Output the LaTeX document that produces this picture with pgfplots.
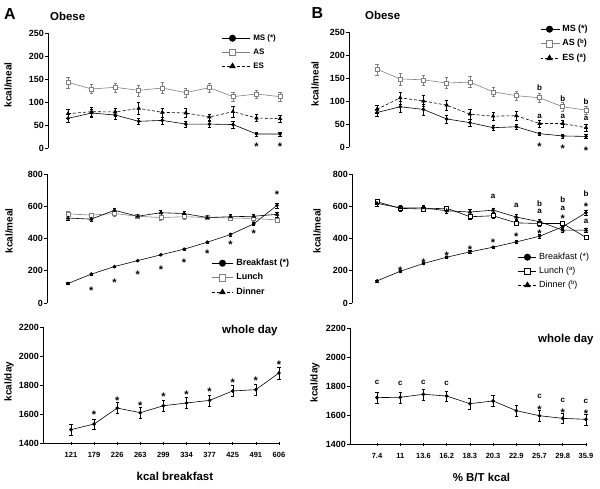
\documentclass[border=0pt]{standalone}
\usepackage{fontspec}
\setmainfont{Liberation Sans}
\usepackage{pgfplots}
\pgfplotsset{compat=1.18}
\definecolor{lgray}{gray}{0.5}
\newcommand\tk{\fontsize{9}{10}\selectfont\bfseries}
\newcommand\lab{\fontsize{10}{12}\selectfont\bfseries}
\newcommand\xt{\fontsize{7.5}{9}\selectfont\bfseries}
\newcommand\xl{\fontsize{11.5}{13}\selectfont\bfseries}
\newcommand\ttl{\fontsize{11.5}{13}\selectfont\bfseries}
\newcommand\st{\fontsize{11}{12}\selectfont\bfseries}
\newcommand\lt{\fontsize{8}{9}\selectfont\bfseries}

\pgfplotsset{
  panel/.style={
    scale only axis, clip=false,
    axis y line=left,
    tick align=outside, major tick length=3bp,
    ytick style={line width=0.7pt, black},
    yticklabel style={font=\tk, inner sep=1bp},
    /pgf/number format/assume math mode=true,
    /pgf/number format/1000 sep={},
    scaled y ticks=false,
    every axis y label/.style={rotate=90, anchor=center, font=\lab},
    legend cell align=left,
    legend style={draw=none, fill=none, inner sep=0pt, anchor=north west, row sep=6bp,
      nodes={inner sep=0pt, text height=6bp, text depth=2bp},
      /tikz/every odd column/.append style={column sep=2.5bp}},
    every legend image post/.style={mark size=3.2bp},
    error bars/y dir=both, error bars/y explicit,
    error bars/error bar style={line width=0.4pt, solid},
    error bars/error mark options={rotate=90, mark size=1.6bp, line width=0.4pt},
  },
  toppanel/.style={panel, axis x line=none, xtick=\empty,
    axis line style={-, line width=0.7pt}},
  botpanel/.style={panel, axis x line=bottom, xtick={0,...,9},
    axis line style={-, line width=0.7pt},
    x axis line style={-}, y axis line style={-},
    xtick style={line width=0.6pt, black},
    xticklabel style={font=\xt, yshift=-4bp},
    every axis x label/.style={at={(axis cs:4.5,1400)}, anchor=center, yshift=-33bp, font=\xl}},
  ms/.style={black, line width=0.6pt, mark=*, mark size=1.5bp},
  as/.style={lgray, line width=0.6pt, mark=square*, mark options={fill=white}, mark size=2bp},
  es/.style={black, line width=0.6pt, densely dashed, mark=triangle*, mark options={solid}, mark size=2bp},
  ann/.style={forget plot, only marks, mark=none, error bars/y dir=none,
    point meta=explicit symbolic, nodes near coords,
    every node near coord/.append style={anchor=center, inner sep=0pt, font=#1}},
  star/.style={ann=\st, every node near coord/.append style={yshift=-2.5bp}},
  legimg/.style 2 args={legend image code/.code={\draw[mark repeat=2, mark phase=2, ##1] plot coordinates {(0bp,0bp) (#1bp,0bp) (#2bp,0bp)};}},
}
\newcommand\supx[1]{\raisebox{2.5bp}{\fontsize{6}{6}\selectfont #1}}

\begin{document}
\begin{tikzpicture}
\useasboundingbox (0,0) rectangle (600bp,-489bp);

% ---------- A top
\begin{axis}[toppanel, at={(48bp,-148bp)}, anchor=south west,
  width=241.5bp, height=115bp, xmin=-0.849, xmax=9.4, ymin=0, ymax=250,
  ytick={0,50,...,250}, ylabel={kcal/meal},
  ylabel style={at={(axis description cs:-0.1656,0.55)}},
  legimg={10}{28},
  legend style={at={(axis description cs:0.7205,0.991)}, font=\fontsize{8}{9}\selectfont\bfseries}]
\addplot[ms] coordinates {(0,64.5)+-(0,8) (1,76)+-(0,9) (2,71.7)+-(0,8) (3,58)+-(0,7) (4,60)+-(0,8)
  (5,52)+-(0,7) (6,52)+-(0,7) (7,51)+-(0,7) (8,30.5)+-(0,4) (9,30.5)+-(0,4)};
\addplot[as] coordinates {(0,142.8)+-(0,12) (1,128.3)+-(0,10) (2,131.9)+-(0,10) (3,125.4)+-(0,12) (4,130.4)+-(0,12)
  (5,120.3)+-(0,10) (6,131.2)+-(0,10) (7,111.6)+-(0,10) (8,117.4)+-(0,9) (9,111.6)+-(0,10)};
\addplot[es] coordinates {(0,74.6)+-(0,9) (1,79)+-(0,9) (2,78.3)+-(0,9) (3,86.2)+-(0,13) (4,77.5)+-(0,10)
  (5,76.1)+-(0,10) (6,67.4)+-(0,7) (7,79)+-(0,11) (8,65.2)+-(0,8) (9,63.8)+-(0,8)};
\addplot[star] coordinates {(8,9)[*] (9,9)[*]};
\legend{MS (*), AS, ES}
\end{axis}

% ---------- A middle
\begin{axis}[toppanel, at={(47bp,-303bp)}, anchor=south west,
  width=239.3bp, height=129bp, xmin=-0.904, xmax=9.4, ymin=0, ymax=800,
  ytick={0,200,...,800}, ylabel={kcal/meal},
  ylabel style={at={(axis description cs:-0.1588,0.56)}},
  legimg={10}{21},
  legend style={at={(axis description cs:0.6895,0.341)}, font=\fontsize{9}{10}\selectfont\bfseries,
    row sep=6.5bp}]
\addplot[ms] coordinates {(0,121)+-(0,5) (1,179)+-(0,5) (2,226)+-(0,5) (3,263)+-(0,5) (4,299)+-(0,5)
  (5,334)+-(0,6) (6,377)+-(0,6) (7,425)+-(0,8) (8,491)+-(0,10) (9,606)+-(0,15)};
\addplot[as] coordinates {(0,553)+-(0,15) (1,545)+-(0,15) (2,555)+-(0,15) (3,538)+-(0,15) (4,530)+-(0,15)
  (5,535)+-(0,15) (6,530)+-(0,12) (7,527)+-(0,15) (8,525)+-(0,15) (9,515)+-(0,15)};
\addplot[es, solid, legend image post style={densely dashed}] coordinates {(0,527)+-(0,15) (1,520)+-(0,15) (2,575)+-(0,15) (3,538)+-(0,15) (4,560)+-(0,15)
  (5,555)+-(0,15) (6,530)+-(0,12) (7,535)+-(0,15) (8,538)+-(0,15) (9,550)+-(0,15)};
\addplot[star] coordinates {(1,89)[*] (2,141)[*] (3,193)[*] (4,220)[*]
  (5,266)[*] (6,321)[*] (7,377)[*] (8,443)[*] (9,687)[*]};
\legend{Breakfast (*), Lunch, Dinner}
\end{axis}

% ---------- A bottom
\begin{axis}[botpanel, at={(43bp,-443bp)}, anchor=south west,
  width=237.1bp, height=116bp, xmin=-1.21, xmax=9.05, ymin=1400, ymax=2200,
  ytick={1400,1600,...,2200}, ylabel={kcal/day},
  ylabel style={at={(axis description cs:-0.1434,0.53)}},
  xticklabels={121,179,226,263,299,334,377,425,491,606},
  xlabel={kcal breakfast}]
\addplot[ms] coordinates {(0,1492)+-(0,37) (1,1531)+-(0,35) (2,1641)+-(0,38) (3,1609)+-(0,40) (4,1657)+-(0,38)
  (5,1676)+-(0,38) (6,1694)+-(0,38) (7,1759)+-(0,38) (8,1768)+-(0,38) (9,1883)+-(0,40)};
\addplot[star] coordinates {(1,1614)[*] (2,1710)[*] (3,1676)[*] (4,1736)[*]
  (5,1749)[*] (6,1772)[*] (7,1832)[*] (8,1848)[*] (9,1959)[*]};
\end{axis}

% ---------- B top
\begin{axis}[toppanel, at={(349bp,-147bp)}, anchor=south west,
  width=246.3bp, height=115bp, xmin=-1.206, xmax=9.4, ymin=0, ymax=250,
  ytick={0,50,...,250}, ylabel={kcal/meal},
  ylabel style={at={(axis description cs:-0.138,0.55)}},
  legimg={9}{19},
  legend style={at={(axis description cs:0.7755,1.061)}, font=\fontsize{9}{10}\selectfont\bfseries,
    row sep=6.5bp}]
\addplot[ms] coordinates {(0,75)+-(0,8) (1,87.5)+-(0,11) (2,81.6)+-(0,12) (3,61)+-(0,9) (4,53)+-(0,8)
  (5,42)+-(0,6) (6,44)+-(0,5) (7,29)+-(0,4) (8,24)+-(0,4) (9,23)+-(0,4)};
\addplot[as] coordinates {(0,169)+-(0,12) (1,148)+-(0,13) (2,146)+-(0,11) (3,139)+-(0,12) (4,141)+-(0,12)
  (5,120)+-(0,10) (6,111.5)+-(0,9) (7,107)+-(0,10) (8,87.5)+-(0,9) (9,80)+-(0,9)};
\addplot[es] coordinates {(0,82)+-(0,9) (1,107)+-(0,13) (2,100)+-(0,12) (3,91)+-(0,11) (4,71.4)+-(0,10)
  (5,67)+-(0,9) (6,68)+-(0,10) (7,51)+-(0,8) (8,51)+-(0,8) (9,42)+-(0,7)};
\addplot[ann=\lt] coordinates {(7,129)[b] (8,105.7)[b] (9,98.4)[b] (7,67)[a] (8,67)[a] (9,62)[a]};
\addplot[star] coordinates {(7,5)[*] (8,2.2)[*] (9,-3.6)[*]};
\legend{MS (*), AS (\supx{b}), ES (\supx{a})}
\end{axis}

% ---------- B middle
\begin{axis}[toppanel, at={(352bp,-303bp)}, anchor=south west,
  width=243.3bp, height=129bp, xmin=-1.077, xmax=9.4, ymin=0, ymax=800,
  ytick={0,200,...,800}, ylabel={kcal/meal},
  ylabel style={at={(axis description cs:-0.1439,0.56)}},
  legimg={9}{18},
  legend style={at={(axis description cs:0.682,0.3876)}, font=\fontsize{9}{10}\selectfont}]
\addplot[ms] coordinates {(0,137)+-(0,5) (1,197)+-(0,6) (2,245)+-(0,6) (3,284)+-(0,8) (4,317)+-(0,8)
  (5,346)+-(0,8) (6,379)+-(0,10) (7,414)+-(0,10) (8,473)+-(0,12) (9,560)+-(0,15)};
\addplot[as, black] coordinates {(0,628)+-(0,15) (1,587)+-(0,15) (2,583)+-(0,15) (3,588)+-(0,15) (4,535)+-(0,15)
  (5,541)+-(0,15) (6,497)+-(0,15) (7,493)+-(0,15) (8,493)+-(0,15) (9,406)+-(0,12)};
\addplot[es, solid, legend image post style={densely dashed}] coordinates {(0,618)+-(0,15) (1,590)+-(0,15) (2,590)+-(0,15) (3,572)+-(0,15) (4,564)+-(0,15)
  (5,576)+-(0,15) (6,533)+-(0,15) (7,504)+-(0,15) (8,452)+-(0,12) (9,452)+-(0,12)};
\addplot[star] coordinates {(1,213)[*] (2,265)[*] (3,311)[*] (4,348)[*]
  (5,391)[*] (6,426)[*] (7,448)[*] (8,540)[*] (9,614)[*]};
\addplot[ann=\lt] coordinates {(5,659)[a] (6,603)[a] (7,618)[b] (7,566)[a] (8,639)[b] (8,587)[a] (9,676)[b] (9,504)[a]};
\legend{Breakfast (*), Lunch (\supx{a}), Dinner (\supx{b})}
\end{axis}

% ---------- B bottom
\begin{axis}[botpanel, at={(350bp,-444bp)}, anchor=south west,
  width=237.1bp, height=116bp, xmin=-1.163, xmax=9.05, ymin=1400, ymax=2200,
  ytick={1400,1600,...,2200}, ylabel={kcal/day},
  ylabel style={at={(axis description cs:-0.1476,0.53)}},
  xticklabels={7.4,11,13.6,16.2,18.3,20.3,22.9,25.7,29.8,35.9},
  xlabel={\% B/T kcal}]
\addplot[ms] coordinates {(0,1720)+-(0,38) (1,1722)+-(0,38) (2,1743)+-(0,38) (3,1731)+-(0,36) (4,1678)+-(0,36)
  (5,1697)+-(0,38) (6,1630)+-(0,40) (7,1595)+-(0,36) (8,1577)+-(0,36) (9,1570)+-(0,38)};
\addplot[ann=\lt] coordinates {(0,1828)[c] (1,1818)[c] (2,1828)[c] (3,1818)[c] (7,1726)[c] (8,1703)[c] (9,1692)[c]};
\addplot[star] coordinates {(7,1653)[*] (8,1634)[*] (9,1625)[*]};
\end{axis}

% panel letters and titles
\node[font=\fontsize{16}{18}\selectfont\bfseries, anchor=center] at (10bp,-14bp) {A};
\node[font=\fontsize{16}{18}\selectfont\bfseries, anchor=center] at (317.5bp,-13bp) {B};
\node[font=\ttl, anchor=west, inner sep=0pt] at (50bp,-16bp) {Obese};
\node[font=\ttl, anchor=west, inner sep=0pt] at (365bp,-15bp) {Obese};
\node[font=\ttl, anchor=west, inner sep=0pt] at (222bp,-331bp) {whole day};
\node[font=\ttl, anchor=west, inner sep=0pt] at (538bp,-340bp) {whole day};
\end{tikzpicture}
\end{document}
